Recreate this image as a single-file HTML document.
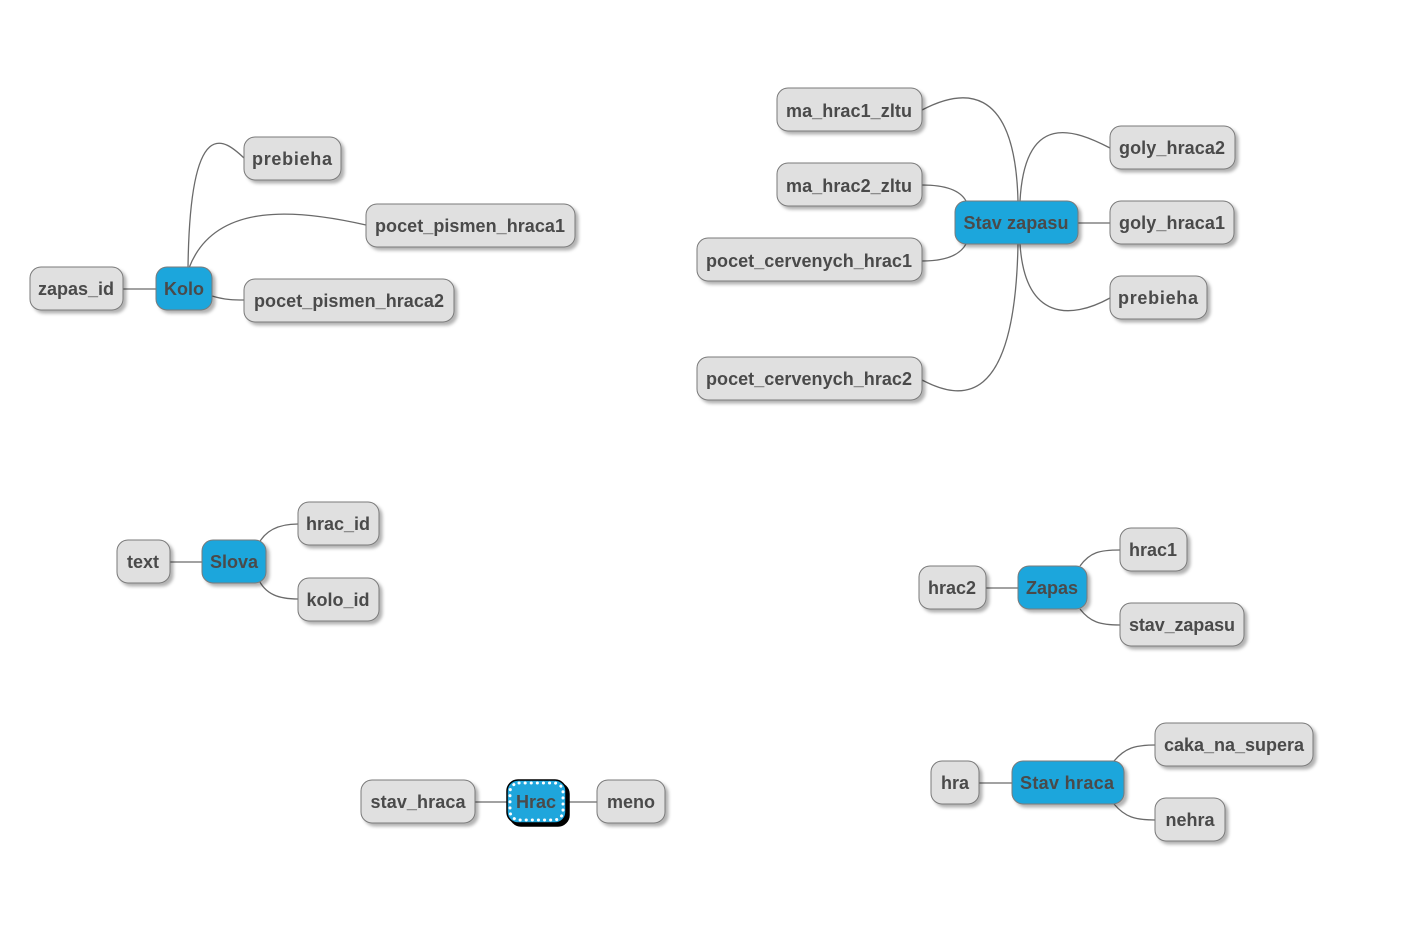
<!DOCTYPE html>
<html><head><meta charset="utf-8"><style>
html,body{margin:0;padding:0;background:#fff;width:1408px;height:925px;overflow:hidden}
text{font-family:"Liberation Sans",sans-serif;font-weight:bold;font-size:18px;fill:#4a4a4a}
.n{fill:#e0e0e0;stroke:#7a7a7a;stroke-width:1}
.b{fill:#1fa6dc;stroke:#7a7a7a;stroke-width:1}
.e{fill:none;stroke:#6a6a6a;stroke-width:1.3}
</style></head><body>
<svg width="1408" height="925" xmlns="http://www.w3.org/2000/svg">
<defs><filter id="s" x="-20%" y="-20%" width="150%" height="160%"><feDropShadow dx="3" dy="3" stdDeviation="1.5" flood-color="#000" flood-opacity="0.3"/></filter></defs>
<g class="e">
<path d="M123,289 H156"/>
<path d="M188,268 C190,110 225,140 244,158"/>
<path d="M189,268 C215,200 300,210 366,225"/>
<path d="M212,296 C225,300 235,300 244,300"/>
<path d="M170,562 H202"/>
<path d="M258,545 C265,530 280,524 298,524"/>
<path d="M258,578 C265,595 280,599 298,599"/>
<path d="M475,802 H507 M566,802 H597"/>
<path d="M922,110 C960,90 1015,80 1018,201"/>
<path d="M922,185 C945,185 960,190 966,201"/>
<path d="M922,261 C945,261 960,255 966,244"/>
<path d="M922,380 C960,400 1015,410 1018,244"/>
<path d="M1020,201 C1025,110 1075,130 1110,148"/>
<path d="M1078,223 H1110"/>
<path d="M1020,244 C1025,320 1070,320 1110,298"/>
<path d="M986,588 H1018"/>
<path d="M1080,566 C1090,552 1100,550 1120,550"/>
<path d="M1080,609 C1090,622 1100,625 1120,625"/>
<path d="M979,783 H1012"/>
<path d="M1114,761 C1125,748 1135,745 1155,745"/>
<path d="M1114,804 C1125,817 1135,820 1155,820"/>
</g>
<g filter="url(#s)">
<rect class="n" x="30" y="267" width="93" height="43" rx="11"/>
<rect class="b" x="156" y="267" width="56" height="43" rx="11"/>
<rect class="n" x="244" y="137" width="97" height="43" rx="11"/>
<rect class="n" x="366" y="204" width="209" height="43" rx="11"/>
<rect class="n" x="244" y="279" width="210" height="43" rx="11"/>
<rect class="n" x="117" y="540" width="53" height="43" rx="11"/>
<rect class="b" x="202" y="540" width="64" height="43" rx="11"/>
<rect class="n" x="298" y="502" width="81" height="43" rx="11"/>
<rect class="n" x="298" y="578" width="81" height="43" rx="11"/>
<rect class="n" x="361" y="780" width="114" height="43" rx="11"/>
<rect class="n" x="597" y="780" width="68" height="43" rx="11"/>
<rect class="n" x="777" y="88" width="145" height="43" rx="11"/>
<rect class="n" x="777" y="163" width="145" height="43" rx="11"/>
<rect class="n" x="697" y="238" width="225" height="43" rx="11"/>
<rect class="n" x="697" y="357" width="225" height="43" rx="11"/>
<rect class="b" x="955" y="201" width="123" height="43" rx="11"/>
<rect class="n" x="1110" y="126" width="125" height="43" rx="11"/>
<rect class="n" x="1110" y="201" width="124" height="43" rx="11"/>
<rect class="n" x="1110" y="276" width="97" height="43" rx="11"/>
<rect class="n" x="919" y="566" width="67" height="43" rx="11"/>
<rect class="b" x="1018" y="566" width="69" height="43" rx="11"/>
<rect class="n" x="1120" y="528" width="67" height="43" rx="11"/>
<rect class="n" x="1120" y="603" width="124" height="43" rx="11"/>
<rect class="n" x="931" y="761" width="48" height="43" rx="11"/>
<rect class="b" x="1012" y="761" width="112" height="43" rx="11"/>
<rect class="n" x="1155" y="723" width="158" height="43" rx="11"/>
<rect class="n" x="1155" y="798" width="70" height="43" rx="11"/>
</g>
<rect x="507" y="780" width="59" height="43" rx="11" fill="#1fa6dc" stroke="#000" stroke-width="1.5" style="filter:drop-shadow(3px 3px 0 #000)"/>
<rect x="510" y="783" width="53" height="37" rx="9" fill="none" stroke="#fff" stroke-width="3" stroke-dasharray="0.1 6" stroke-linecap="round"/>
<g text-anchor="middle">
<text x="76" y="295" textLength="76">zapas_id</text>
<text x="184" y="295">Kolo</text>
<text x="292" y="165" textLength="80">prebieha</text>
<text x="470" y="232" textLength="190">pocet_pismen_hraca1</text>
<text x="349" y="307" textLength="190">pocet_pismen_hraca2</text>
<text x="143" y="568">text</text>
<text x="234" y="568">Slova</text>
<text x="338" y="530">hrac_id</text>
<text x="338" y="606">kolo_id</text>
<text x="418" y="808" textLength="95">stav_hraca</text>
<text x="536" y="808">Hrac</text>
<text x="631" y="808">meno</text>
<text x="849" y="117" textLength="126">ma_hrac1_zltu</text>
<text x="849" y="192" textLength="126">ma_hrac2_zltu</text>
<text x="809" y="267" textLength="206">pocet_cervenych_hrac1</text>
<text x="809" y="385" textLength="206">pocet_cervenych_hrac2</text>
<text x="1016" y="229" textLength="105">Stav zapasu</text>
<text x="1172" y="154" textLength="106">goly_hraca2</text>
<text x="1172" y="229" textLength="106">goly_hraca1</text>
<text x="1158" y="304" textLength="80">prebieha</text>
<text x="952" y="594">hrac2</text>
<text x="1052" y="594">Zapas</text>
<text x="1153" y="556">hrac1</text>
<text x="1182" y="631" textLength="106">stav_zapasu</text>
<text x="955" y="789">hra</text>
<text x="1067" y="789" textLength="94">Stav hraca</text>
<text x="1234" y="751" textLength="140">caka_na_supera</text>
<text x="1190" y="826">nehra</text>
</g>
</svg>
</body></html>
